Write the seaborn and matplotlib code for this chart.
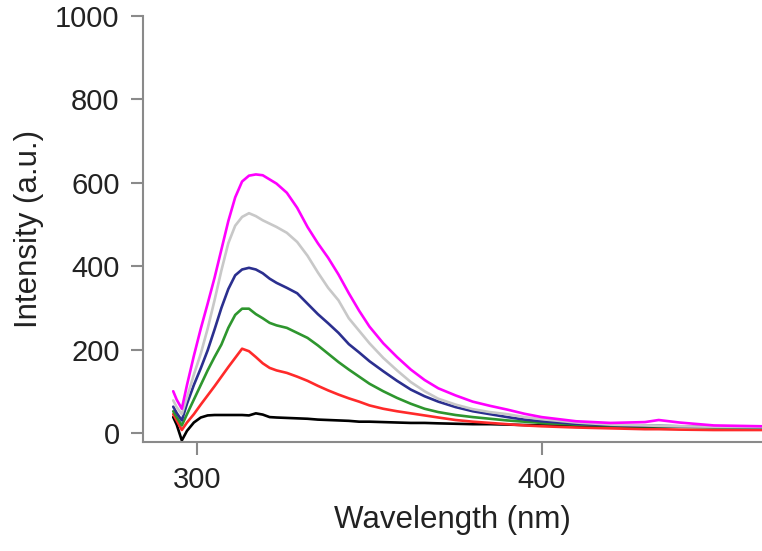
import pandas as pd
import seaborn as sns
import matplotlib.pyplot as plt

# wavelength grid (nm)
wavelength = [293, 294, 295.5, 297, 299, 301, 303, 305, 307, 309, 311, 313, 315, 317,
              319, 321, 323, 326, 329, 332, 335, 338, 341, 344, 347, 350, 354, 358,
              362, 366, 370, 375, 380, 385, 390, 395, 400, 410, 420, 430, 434, 440,
              450, 464]

magenta = [100, 80, 58, 115, 185, 250, 310, 372, 440, 508, 565, 603, 617, 620,
           618, 608, 598, 576, 540, 494, 455, 420, 380, 335, 293, 255, 215, 182,
           152, 127, 107, 90, 75, 65, 56, 46, 38, 28, 24, 26, 31, 25, 18, 16]

gray = [78, 62, 45, 85, 140, 190, 250, 318, 390, 455, 497, 518, 527, 520,
        510, 502, 494, 480, 458, 425, 385, 348, 318, 275, 245, 215, 180, 150,
        122, 100, 82, 68, 57, 50, 45, 38, 33, 25, 20, 18, 17, 16, 15, 14]

blue = [63, 48, 30, 70, 115, 155, 198, 248, 300, 345, 378, 392, 396, 392,
        383, 370, 360, 348, 335, 310, 285, 263, 240, 213, 193, 172, 148, 125,
        104, 88, 75, 62, 52, 45, 38, 32, 28, 22, 19, 17, 17, 16, 15, 14]

green = [52, 38, 18, 45, 80, 115, 150, 182, 212, 252, 283, 298, 298, 285,
         275, 264, 258, 252, 240, 228, 210, 190, 170, 152, 135, 118, 100, 84,
         70, 58, 50, 43, 38, 34, 30, 27, 24, 20, 18, 16, 16, 15, 14, 13]

red = [45, 30, 7, 25, 45, 68, 90, 112, 135, 158, 180, 202, 196, 182,
       167, 156, 150, 144, 135, 125, 113, 102, 92, 83, 75, 66, 58, 52,
       47, 42, 37, 31, 27, 24, 21, 18, 16, 13, 11, 9, 9, 8, 7, 7]

black = [38, 20, -18, 5, 25, 37, 42, 43, 43, 43, 43, 43, 42, 47,
         44, 38, 37, 36, 35, 34, 32, 31, 30, 29, 27, 27, 26, 25,
         24, 24, 23, 22, 21, 21, 20, 19, 18, 17, 16, 15, 15, 15, 14, 14]

series = {'black': black, 'red': red, 'green': green, 'blue': blue,
          'gray': gray, 'magenta': magenta}
colors = {'black': '#000000', 'red': '#ff2a2a', 'green': '#2e962e',
          'blue': '#2b2f8f', 'gray': '#c8c8c8', 'magenta': '#ff00ff'}

df = pd.concat([pd.DataFrame({'wl': wavelength, 'val': v, 'name': k})
                for k, v in series.items()], ignore_index=True)

sns.set_style('ticks')
plt.rcParams['font.family'] = ['Liberation Sans', 'DejaVu Sans']

fig = plt.figure(figsize=(7.62, 5.51), dpi=100)
ax = fig.add_axes([0.188, 0.198, 0.812, 0.773])

# magenta last so it sits on top like the original
for name in ['black', 'red', 'green', 'blue', 'gray', 'magenta']:
    sns.lineplot(data=df[df['name'] == name], x='wl', y='val', color=colors[name],
                 linewidth=1.9, ax=ax, legend=False, estimator=None)

ax.set_xlim(284.3, 464)
ax.set_ylim(-21.5, 1000)
ax.set_xticks([300, 400])
ax.set_yticks([0, 200, 400, 600, 800, 1000])

sns.despine(ax=ax)
for s in ['left', 'bottom']:
    ax.spines[s].set_color('#8a8a8a')
    ax.spines[s].set_linewidth(1.5)
ax.tick_params(colors='#8a8a8a', width=1.5, length=9, pad=8, labelsize=21,
               labelcolor='#222222')

ax.set_xlabel('Wavelength (nm)', fontsize=22.5, color='#222222', labelpad=8)
ax.set_ylabel('Intensity (a.u.)', fontsize=22.5, color='#222222', labelpad=8)

fig.savefig('out.png', dpi=100)
